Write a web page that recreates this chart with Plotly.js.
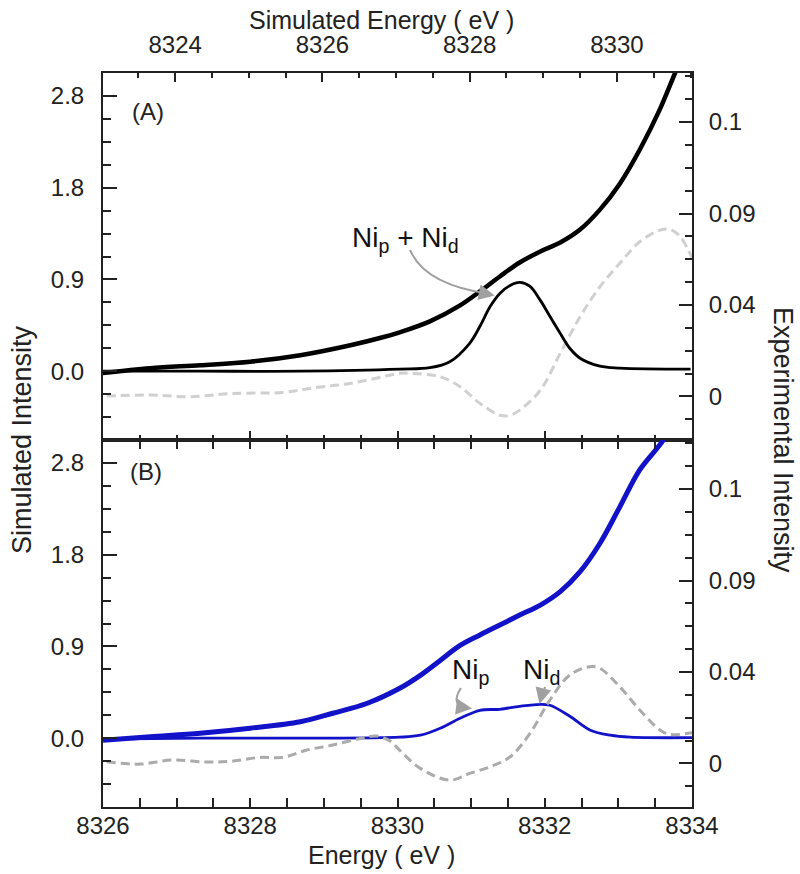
<!DOCTYPE html>
<html>
<head>
<meta charset="utf-8">
<script src="https://cdn.plot.ly/plotly-3.0.1.min.js"></script>
<style>html,body{margin:0;padding:0;background:#fff;}#chart{width:800px;height:874px;}</style>
</head>
<body>
<div id="chart"></div>
<script>
// ---- Panel (A): simulated spectra (top axis = simulated energy) ----
const simEnergyTotalA = [8323.0, 8323.66, 8324.34, 8325.02, 8325.70, 8326.38, 8326.82, 8327.05, 8327.46, 8327.87, 8328.14, 8328.41, 8328.68, 8328.96, 8329.23, 8329.50, 8329.77, 8330.04, 8330.31, 8330.58, 8330.79, 8330.90];
const simTotalA       = [-0.02, 0.03, 0.06, 0.095, 0.16, 0.26, 0.34, 0.39, 0.50, 0.66, 0.80, 0.95, 1.09, 1.20, 1.29, 1.42, 1.62, 1.88, 2.22, 2.62, 2.99, 3.18];
const simEnergyPeakA  = [8323.0, 8324.34, 8325.70, 8327.05, 8327.46, 8327.73, 8328.00, 8328.14, 8328.28, 8328.41, 8328.55, 8328.68, 8328.82, 8328.96, 8329.09, 8329.23, 8329.36, 8329.50, 8329.77, 8330.04, 8331.0];
const simPeakA        = [0.0, 0.0, 0.0, 0.02, 0.035, 0.095, 0.28, 0.45, 0.65, 0.78, 0.86, 0.89, 0.85, 0.71, 0.55, 0.38, 0.23, 0.13, 0.05, 0.03, 0.02];
// experimental (gray dashed, right axis)
const expEnergyA = [8326.05, 8326.64, 8327.18, 8327.77, 8328.44, 8328.91, 8329.35, 8329.80, 8330.03, 8330.17, 8330.58, 8330.85, 8331.12, 8331.39, 8331.53, 8331.66, 8331.94, 8332.21, 8332.48, 8332.75, 8333.02, 8333.29, 8333.57, 8333.70, 8333.84, 8333.95, 8334.0];
const expIntA    = [0.0002, 0.0007, -0.0001, 0.0015, 0.0020, 0.0045, 0.0064, 0.0097, 0.0114, 0.0114, 0.0097, 0.0048, -0.0034, -0.0092, -0.0092, -0.0067, 0.0031, 0.0212, 0.0392, 0.0540, 0.0655, 0.0761, 0.0819, 0.0822, 0.0786, 0.0720, 0.068];

// ---- Panel (B) ----
const energyTotalB = [8326.00, 8326.64, 8327.32, 8328.00, 8328.68, 8329.12, 8329.59, 8330.03, 8330.31, 8330.58, 8330.85, 8331.12, 8331.39, 8331.66, 8331.94, 8332.21, 8332.48, 8332.75, 8333.02, 8333.29, 8333.61, 8333.75];
const simTotalB    = [-0.02, 0.015, 0.05, 0.10, 0.165, 0.25, 0.35, 0.50, 0.63, 0.78, 0.93, 1.035, 1.135, 1.235, 1.335, 1.47, 1.67, 1.955, 2.32, 2.69, 2.99, 3.2];
const energyCompB  = [8326.0, 8327.32, 8328.68, 8330.03, 8330.31, 8330.58, 8330.85, 8331.12, 8331.39, 8331.66, 8331.94, 8332.07, 8332.34, 8332.62, 8332.89, 8333.16, 8334.0];
const simCompB     = [-0.01, 0.0, 0.0, 0.01, 0.03, 0.10, 0.20, 0.28, 0.29, 0.32, 0.34, 0.33, 0.22, 0.08, 0.03, 0.01, 0.005];
const expEnergyB = [8326.05, 8326.50, 8326.95, 8327.41, 8327.77, 8328.13, 8328.44, 8328.77, 8329.12, 8329.49, 8329.72, 8329.90, 8330.03, 8330.31, 8330.71, 8330.98, 8331.26, 8331.53, 8331.80, 8332.07, 8332.34, 8332.61, 8332.75, 8333.02, 8333.29, 8333.57, 8333.70, 8334.0];
const expIntB    = [0.0008, -0.0003, 0.0017, 0.0007, 0.0012, 0.0030, 0.0030, 0.0066, 0.0091, 0.0123, 0.0135, 0.0110, 0.0065, -0.0024, -0.0082, -0.0049, -0.0016, 0.0033, 0.0148, 0.0312, 0.0435, 0.0476, 0.0468, 0.0377, 0.0263, 0.0164, 0.0143, 0.0151];

// ---- tick labels ----
const simTickVals  = [0, 0.92, 1.84, 2.76];
const simTickText  = ["0.0", "0.9", "1.8", "2.8"];
const expTickVals  = [0, 0.045, 0.09, 0.135];
const expTickText  = ["0", "0.04", "0.09", "0.1"];

const FONT = "Liberation Sans, Arial, Helvetica, sans-serif";
const AX = "#222222";

function range(a, b, step) { const out = []; for (let v = a; v <= b + 1e-9; v += step) out.push(+v.toFixed(5)); return out; }
const simMinor = range(-0.69, 3.0, 0.23).map(v => +(Math.round(v / 0.23) * 0.23).toFixed(4));
const expMinor = range(-0.02, 0.16, 0.01125).map(v => +(Math.round(v / 0.01125) * 0.01125).toFixed(5));

function base() {
  return { showgrid: false, zeroline: false, showline: true, linecolor: AX, linewidth: 2,
    ticks: "inside", tickcolor: AX, tickwidth: 2, tickfont: { family: FONT, size: 24, color: "#222" } };
}
function xAx(extra) {
  return Object.assign(base(), { ticklen: 9, dtick: 2, minor: { dtick: 0.5, ticks: "inside", ticklen: 5, tickwidth: 2, tickcolor: AX } }, extra);
}
function ySim(extra) {
  return Object.assign(base(), { range: [-0.69, 2.99], tickmode: "array", tickvals: simTickVals, ticktext: simTickText,
    ticklen: 14, ticklabelstandoff: 12,
    minor: { tickmode: "array", tickvals: simMinor, ticks: "inside", ticklen: 8, tickwidth: 2, tickcolor: AX } }, extra);
}
function yExp(extra) {
  return Object.assign(base(), { range: [-0.0214, 0.1591], tickmode: "array", tickvals: expTickVals, ticktext: expTickText,
    ticklen: 13, side: "right", ticklabelstandoff: 10,
    minor: { tickmode: "array", tickvals: expMinor, ticks: "inside", ticklen: 7, tickwidth: 2, tickcolor: AX } }, extra);
}

const blue = "#1212c8";
const traces = [
  { x: expEnergyA, y: expIntA, xaxis: "x", yaxis: "y2", mode: "lines", line: { color: "#d0d0d0", width: 3, dash: "9px,5px", shape: "spline" } },
  { x: simEnergyPeakA, y: simPeakA, xaxis: "x2", yaxis: "y", mode: "lines", line: { color: "#000", width: 2.8, shape: "spline" } },
  { x: simEnergyTotalA, y: simTotalA, xaxis: "x2", yaxis: "y", mode: "lines", line: { color: "#000", width: 4.5, shape: "spline" } },
  { x: expEnergyB, y: expIntB, xaxis: "x3", yaxis: "y4", mode: "lines", line: { color: "#ababab", width: 3, dash: "9px,5px", shape: "spline" } },
  { x: energyCompB, y: simCompB, xaxis: "x3", yaxis: "y3", mode: "lines", line: { color: blue, width: 2.8, shape: "spline" } },
  { x: energyTotalB, y: simTotalB, xaxis: "x3", yaxis: "y3", mode: "lines", line: { color: blue, width: 5, shape: "spline" } }
];

const gray = "#a0a0a0";
function lbl(text, x, y, size, extra) {
  return Object.assign({ xref: "paper", yref: "paper", x: x, y: y, xanchor: "center", yanchor: "middle", text: text, showarrow: false,
    font: { family: FONT, size: size, color: "#222" } }, extra || {});
}
const layout = {
  width: 800, height: 874, showlegend: false,
  paper_bgcolor: "#fff", plot_bgcolor: "rgba(0,0,0,0)",
  margin: { l: 103, r: 108, t: 73, b: 67 },
  font: { family: FONT, color: "#222" },
  xaxis: xAx({ domain: [0, 1], anchor: "y", range: [8326, 8334], tick0: 8326, showticklabels: false }),
  xaxis2: xAx({ overlaying: "x", anchor: "y", side: "top", range: [8323.02, 8331.02], tick0: 8324, ticklabelstandoff: 8 }),
  yaxis: ySim({ domain: [0.5, 1], anchor: "x" }),
  yaxis2: yExp({ overlaying: "y", anchor: "x" }),
  xaxis3: xAx({ domain: [0, 1], anchor: "y3", range: [8326, 8334], tick0: 8326, mirror: "allticks", ticklabelstandoff: -4 }),
  yaxis3: ySim({ domain: [0, 0.5], anchor: "x3" }),
  yaxis4: yExp({ overlaying: "y3", anchor: "x3" }),
  shapes: [
    { type: "path", xref: "x", yref: "y", path: "M 8330.17 1.216 Q 8330.37 0.865 8331.26 0.774", line: { color: gray, width: 2 } },
    { type: "path", xref: "x3", yref: "y3", path: "M 8330.862 0.504 Q 8330.713 0.333 8330.93 0.313", line: { color: gray, width: 2 } },
    { type: "path", xref: "x3", yref: "y3", path: "M 8332.003 0.514 Q 8331.99 0.443 8331.949 0.393", line: { color: gray, width: 2 } }
  ],
  annotations: [
    lbl("Simulated Energy ( eV )", (381 - 103) / 589, (807 - 20) / 734, 25),
    lbl("Energy ( eV )", (381 - 103) / 589, (807 - 855) / 734, 25),
    lbl("Simulated Intensity", (22 - 103) / 589, 0.5, 27, { textangle: -90 }),
    lbl("Experimental Intensity", (783 - 103) / 589, 0.5, 27, { textangle: 90 }),
    lbl("(A)", 27 / 589, (807 - 112) / 734, 24, { xanchor: "left" }),
    lbl("(B)", 25 / 589, (807 - 471) / 734, 24, { xanchor: "left" }),
    { xref: "x", yref: "y", x: 8326 + (405 - 103) / 73.625, y: (371.2 - 240) * 0.01003, text: "Ni<sub>p</sub> + Ni<sub>d</sub>", showarrow: false, font: { family: FONT, size: 28, color: "#111" } },
    { xref: "x3", yref: "y3", x: 8326 + (470 - 103) / 73.625, y: (738.2 - 672) * 0.01003, text: "Ni<sub>p</sub>", showarrow: false, font: { family: FONT, size: 28, color: "#111" } },
    { xref: "x3", yref: "y3", x: 8326 + (541 - 103) / 73.625, y: (738.2 - 672) * 0.01003, text: "Ni<sub>d</sub>", showarrow: false, font: { family: FONT, size: 28, color: "#111" } },
    // arrowheads
    { xref: "x", yref: "y", x: 8331.32, y: 0.76, ax: -10, ay: -2, text: "", showarrow: true, arrowhead: 2, arrowsize: 1.6, arrowwidth: 2, arrowcolor: gray },
    { xref: "x3", yref: "y3", x: 8331.012, y: 0.298, ax: -8, ay: -1, text: "", showarrow: true, arrowhead: 2, arrowsize: 1.6, arrowwidth: 2, arrowcolor: gray },
    { xref: "x3", yref: "y3", x: 8331.929, y: 0.343, ax: 2, ay: -8, text: "", showarrow: true, arrowhead: 2, arrowsize: 1.6, arrowwidth: 2, arrowcolor: gray }
  ]
};

Plotly.newPlot("chart", traces, layout, { displayModeBar: false, staticPlot: true });
</script>
</body>
</html>
